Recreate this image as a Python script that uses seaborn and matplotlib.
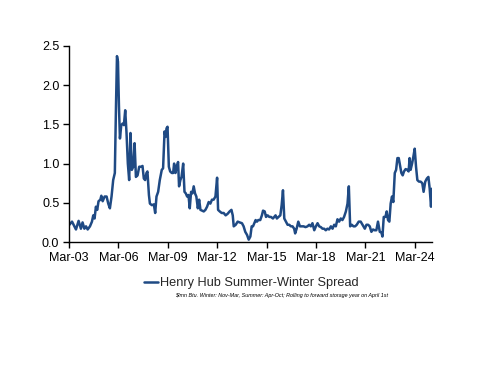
import matplotlib
matplotlib.use("Agg")
import matplotlib.pyplot as plt
import seaborn as sns
import pandas as pd

# Time in decimal years, spread in $/mn Btu
years = [
    2003.19, 2003.35, 2003.49, 2003.59, 2003.75, 2003.89, 2003.99, 2004.10, 2004.20, 2004.30,
    2004.44, 2004.56, 2004.64, 2004.72, 2004.80, 2004.88, 2004.96, 2005.07, 2005.13, 2005.21,
    2005.33, 2005.45, 2005.55, 2005.65, 2005.75, 2005.85, 2005.95, 2006.02, 2006.08, 2006.14,
    2006.20, 2006.26, 2006.34, 2006.42, 2006.50, 2006.58, 2006.66, 2006.74, 2006.82, 2006.90,
    2006.98, 2007.07, 2007.15, 2007.23, 2007.33, 2007.43, 2007.55, 2007.63, 2007.71, 2007.79,
    2007.87, 2007.93, 2008.02, 2008.08, 2008.20, 2008.32, 2008.40, 2008.48, 2008.58, 2008.68,
    2008.80, 2008.88, 2008.97, 2009.03, 2009.09, 2009.15, 2009.23, 2009.31, 2009.41, 2009.49,
    2009.55, 2009.63, 2009.71, 2009.79, 2009.85, 2009.93, 2010.00, 2010.10, 2010.18, 2010.26,
    2010.34, 2010.42, 2010.50, 2010.58, 2010.66, 2010.74, 2010.82, 2010.90, 2010.99, 2011.07,
    2011.15, 2011.25, 2011.35, 2011.45, 2011.55, 2011.65, 2011.75, 2011.85, 2011.95, 2012.06,
    2012.16, 2012.22, 2012.32, 2012.44, 2012.56, 2012.68, 2012.80, 2012.92, 2013.03, 2013.11,
    2013.17, 2013.29, 2013.41, 2013.53, 2013.67, 2013.77, 2013.87, 2013.98, 2014.08, 2014.18,
    2014.26, 2014.34, 2014.42, 2014.50, 2014.58, 2014.66, 2014.78, 2014.88, 2014.95, 2015.05,
    2015.13, 2015.23, 2015.33, 2015.43, 2015.55, 2015.63, 2015.71, 2015.79, 2015.89, 2016.00,
    2016.08, 2016.16, 2016.24, 2016.34, 2016.44, 2016.54, 2016.64, 2016.74, 2016.84, 2016.90,
    2016.99, 2017.09, 2017.19, 2017.29, 2017.41, 2017.53, 2017.65, 2017.75, 2017.85, 2017.95,
    2018.06, 2018.16, 2018.26, 2018.36, 2018.46, 2018.56, 2018.66, 2018.76, 2018.86, 2018.96,
    2019.07, 2019.17, 2019.27, 2019.37, 2019.47, 2019.57, 2019.67, 2019.77, 2019.87, 2019.98,
    2020.08, 2020.16, 2020.24, 2020.34, 2020.44, 2020.54, 2020.64, 2020.76, 2020.88, 2020.99,
    2021.13, 2021.23, 2021.33, 2021.43, 2021.53, 2021.63, 2021.73, 2021.83, 2021.93, 2022.04,
    2022.14, 2022.20, 2022.28, 2022.38, 2022.46, 2022.54, 2022.62, 2022.70, 2022.78, 2022.86,
    2022.95, 2023.03, 2023.11, 2023.19, 2023.25, 2023.35, 2023.43, 2023.51, 2023.61, 2023.71,
    2023.79, 2023.85, 2023.91, 2024.00, 2024.08, 2024.16, 2024.24, 2024.32, 2024.42, 2024.52,
    2024.62, 2024.70, 2024.80, 2024.90, 2024.99, 2025.07, 2025.15, 2025.21,
]
spread = [
    0.22, 0.26, 0.20, 0.16, 0.27, 0.17, 0.25, 0.17, 0.20, 0.16,
    0.20, 0.26, 0.34, 0.30, 0.45, 0.41, 0.52, 0.54, 0.59, 0.52,
    0.58, 0.58, 0.49, 0.43, 0.58, 0.79, 0.88, 1.73, 2.37, 2.30,
    1.73, 1.32, 1.49, 1.51, 1.49, 1.68, 1.39, 1.00, 0.79, 1.39,
    0.92, 0.96, 1.26, 0.83, 0.85, 0.96, 0.96, 0.97, 0.81, 0.79,
    0.88, 0.90, 0.60, 0.49, 0.47, 0.48, 0.37, 0.58, 0.64, 0.79,
    0.92, 0.94, 1.41, 1.34, 1.45, 1.47, 0.96, 0.90, 0.88, 0.88,
    1.00, 0.88, 0.96, 1.02, 0.71, 0.79, 0.83, 1.00, 0.64, 0.62,
    0.58, 0.60, 0.43, 0.64, 0.62, 0.71, 0.62, 0.58, 0.43, 0.54,
    0.41, 0.40, 0.39, 0.41, 0.45, 0.51, 0.49, 0.54, 0.54, 0.58,
    0.82, 0.41, 0.39, 0.37, 0.37, 0.34, 0.36, 0.39, 0.41, 0.34,
    0.20, 0.22, 0.26, 0.25, 0.24, 0.20, 0.13, 0.09, 0.03, 0.07,
    0.20, 0.20, 0.24, 0.28, 0.26, 0.28, 0.28, 0.34, 0.40, 0.39,
    0.32, 0.34, 0.32, 0.32, 0.30, 0.32, 0.34, 0.30, 0.32, 0.34,
    0.47, 0.66, 0.30, 0.26, 0.22, 0.22, 0.20, 0.20, 0.17, 0.11,
    0.17, 0.26, 0.20, 0.20, 0.20, 0.19, 0.20, 0.22, 0.20, 0.24,
    0.15, 0.20, 0.24, 0.20, 0.19, 0.17, 0.17, 0.15, 0.17, 0.16,
    0.20, 0.17, 0.22, 0.20, 0.29, 0.26, 0.30, 0.28, 0.32, 0.39,
    0.49, 0.71, 0.20, 0.22, 0.20, 0.20, 0.22, 0.26, 0.26, 0.22,
    0.17, 0.22, 0.22, 0.20, 0.13, 0.16, 0.15, 0.15, 0.26, 0.13,
    0.12, 0.07, 0.32, 0.32, 0.39, 0.28, 0.26, 0.49, 0.58, 0.51,
    0.88, 0.92, 1.07, 1.07, 1.00, 0.88, 0.85, 0.90, 0.93, 0.92,
    0.90, 1.07, 0.92, 1.00, 1.09, 1.19, 0.96, 0.79, 0.77, 0.77,
    0.75, 0.64, 0.77, 0.81, 0.83, 0.68, 0.45, 0.68,
]
tick_years = [2003, 2006, 2009, 2012, 2015, 2018, 2021, 2024]
tick_labels = ["Mar-03", "Mar-06", "Mar-09", "Mar-12", "Mar-15", "Mar-18", "Mar-21", "Mar-24"]
y_ticks = [0.0, 0.5, 1.0, 1.5, 2.0, 2.5]
series_name = "Henry Hub Summer-Winter Spread"
footnote = "$/mn Btu. Winter: Nov-Mar, Summer: Apr-Oct; Rolling to forward storage year on April 1st"

df = pd.DataFrame({"t": years, "v": spread, "s": series_name})

sns.set_style("ticks")
plt.rcParams["font.family"] = ["Liberation Sans", "DejaVu Sans"]

fig = plt.figure(figsize=(5.0, 3.86), dpi=100)
ax = fig.add_axes([0.138, 0.373, 0.726, 0.508])

color = "#1F4A84"
sns.lineplot(data=df, x="t", y="v", hue="s", palette=[color], linewidth=1.8,
             ax=ax, legend=False)

ax.set_xlim(2003 + 2 / 12, 2025.21)
ax.set_ylim(0, 2.5)
ax.set_xticks([y + 2 / 12 for y in tick_years])
ax.set_xticklabels(tick_labels)
ax.set_yticks(y_ticks)
ax.set_yticklabels([f"{v:.1f}" for v in y_ticks])
ax.set_xlabel("")
ax.set_ylabel("")
for side in ["top", "right"]:
    ax.spines[side].set_visible(False)
for side in ["left", "bottom"]:
    ax.spines[side].set_color("black")
    ax.spines[side].set_linewidth(1.0)
ax.tick_params(axis="both", direction="out", length=4, width=1, color="black",
               labelsize=9, labelcolor="black", pad=3)

handle = plt.Line2D([], [], color=color, linewidth=1.8)
fig.legend([handle], [series_name], loc="center", bbox_to_anchor=(0.502, 1 - 283 / 386),
           frameon=False, fontsize=9.2, handlelength=1.1, handletextpad=0.15,
           borderaxespad=0, borderpad=0)
fig.text(0.563, 1 - 296 / 386, footnote, ha="center", va="center", fontsize=3.85,
         style="italic", color="black")

fig.savefig("out.png", dpi=100)
